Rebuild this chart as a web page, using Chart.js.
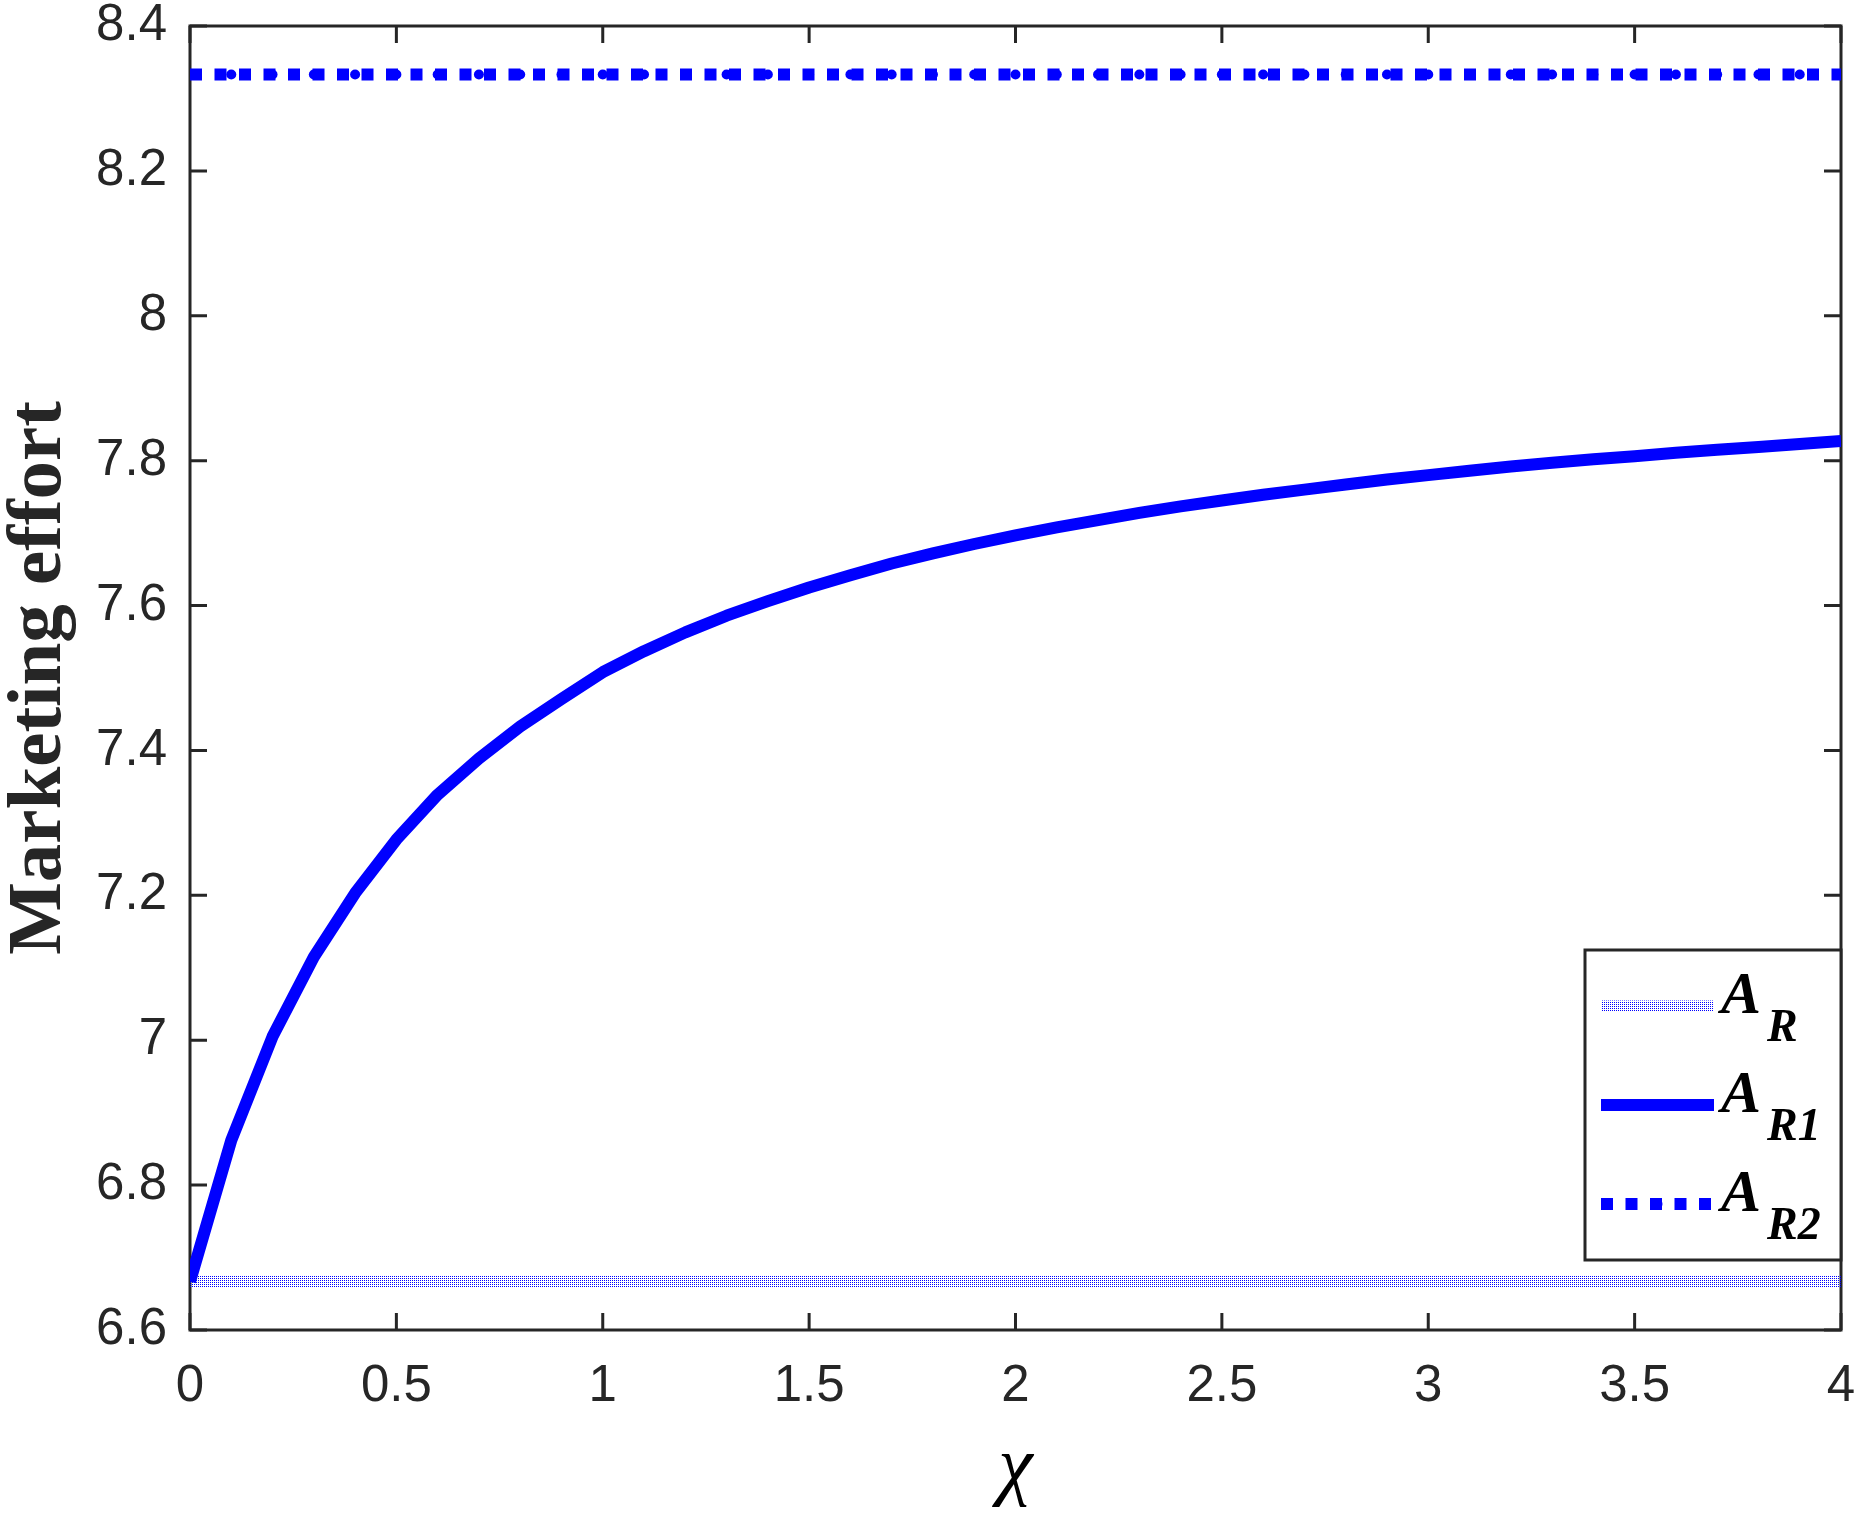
<!DOCTYPE html>
<html>
<head>
<meta charset="utf-8">
<title>Marketing effort vs chi</title>
<script src="https://cdn.jsdelivr.net/npm/chart.js@4/dist/chart.umd.min.js"></script>
<style>
    html, body { margin: 0; padding: 0; background: #ffffff; }
    canvas { display: block; }
</style>
</head>
<body>
<canvas id="effort-chart" width="1868" height="1522"></canvas>
<script>
const chiValues = [
    0, 0.1, 0.2, 0.3, 0.4, 0.5, 0.6, 0.7, 0.8, 0.9,
    1, 1.1, 1.2, 1.3, 1.4, 1.5, 1.6, 1.7, 1.8, 1.9,
    2, 2.1, 2.2, 2.3, 2.4, 2.5, 2.6, 2.7, 2.8, 2.9,
    3, 3.1, 3.2, 3.3, 3.4, 3.5, 3.6, 3.7, 3.8, 3.9,
    4
];
const effortR = [
    6.667, 6.667, 6.667, 6.667, 6.667, 6.667, 6.667, 6.667, 6.667, 6.667,
    6.667, 6.667, 6.667, 6.667, 6.667, 6.667, 6.667, 6.667, 6.667, 6.667,
    6.667, 6.667, 6.667, 6.667, 6.667, 6.667, 6.667, 6.667, 6.667, 6.667,
    6.667, 6.667, 6.667, 6.667, 6.667, 6.667, 6.667, 6.667, 6.667, 6.667,
    6.667
];
const effortR1 = [
    6.667, 6.862, 7.005, 7.115, 7.203, 7.277, 7.339, 7.389, 7.433, 7.471,
    7.508, 7.537, 7.563, 7.586, 7.606, 7.625, 7.642, 7.658, 7.672, 7.685,
    7.697, 7.708, 7.718, 7.728, 7.737, 7.745, 7.753, 7.760, 7.767, 7.774,
    7.780, 7.786, 7.792, 7.797, 7.802, 7.806, 7.811, 7.815, 7.819, 7.823,
    7.827
];
const effortR2 = [
    8.333, 8.333, 8.333, 8.333, 8.333, 8.333, 8.333, 8.333, 8.333, 8.333,
    8.333, 8.333, 8.333, 8.333, 8.333, 8.333, 8.333, 8.333, 8.333, 8.333,
    8.333, 8.333, 8.333, 8.333, 8.333, 8.333, 8.333, 8.333, 8.333, 8.333,
    8.333, 8.333, 8.333, 8.333, 8.333, 8.333, 8.333, 8.333, 8.333, 8.333,
    8.333
];
const seriesLabels = ['A_R', 'A_R1', 'A_R2'];
const xTitle = 'χ';
const yTitle = 'Marketing effort';

const AXIS_COLOR = '#262626';
const BLUE = '#0000ff';
const TICK_LEN = 17;

// Stippled fill used by the A_R line (sparse blue dots on white)
const makeStipple = () => {
    const tile = document.createElement('canvas');
    tile.width = 2;
    tile.height = 2;
    const tctx = tile.getContext('2d');
    tctx.fillStyle = BLUE;
    tctx.fillRect(0, 0, 1, 1);
    return document.getElementById('effort-chart').getContext('2d').createPattern(tile, 'repeat');
};

const toPoints = (values) => chiValues.map((c, i) => ({ x: c, y: values[i] }));

const formatTick = (value) => String(Number(value.toFixed(1)));

/**
 * Box around the plot with inward ticks on all four sides
 */
const frameAndTicks = {
    id: 'frameAndTicks',
    beforeDatasetsDraw(chart) {
        const { ctx, chartArea: a, scales: { x, y } } = chart;
        ctx.save();
        ctx.strokeStyle = AXIS_COLOR;
        ctx.lineWidth = 3;
        ctx.beginPath();
        x.ticks.forEach(t => {
            const px = x.getPixelForValue(t.value);
            ctx.moveTo(px, a.bottom);
            ctx.lineTo(px, a.bottom - TICK_LEN);
            ctx.moveTo(px, a.top);
            ctx.lineTo(px, a.top + TICK_LEN);
        });
        y.ticks.forEach(t => {
            const py = y.getPixelForValue(t.value);
            ctx.moveTo(a.left, py);
            ctx.lineTo(a.left + TICK_LEN, py);
            ctx.moveTo(a.right, py);
            ctx.lineTo(a.right - TICK_LEN, py);
        });
        ctx.stroke();
        ctx.strokeRect(a.left, a.top, a.right - a.left, a.bottom - a.top);
        ctx.restore();
    }
};

/**
 * Legend with subscripted labels, bottom right inside the plot
 */
const subscriptLegend = {
    id: 'subscriptLegend',
    afterDraw(chart) {
        const { ctx, chartArea: a } = chart;
        const boxW = 256;
        const boxH = 310;
        const boxX = a.right - boxW;
        const boxY = a.bottom - 70 - boxH;
        ctx.save();
        ctx.fillStyle = '#ffffff';
        ctx.fillRect(boxX, boxY, boxW, boxH);
        ctx.strokeStyle = AXIS_COLOR;
        ctx.lineWidth = 3;
        ctx.strokeRect(boxX, boxY, boxW, boxH);

        chart.data.datasets.forEach((ds, i) => {
            const rowY = boxY + 56 + i * 99;
            const x0 = boxX + 16;
            const x1 = boxX + 129;
            ctx.save();
            ctx.strokeStyle = ds.borderColor;
            ctx.lineWidth = ds.borderWidth;
            ctx.lineCap = 'butt';
            ctx.setLineDash(ds.borderDash || []);
            ctx.beginPath();
            ctx.moveTo(x0, rowY);
            ctx.lineTo(x1, rowY);
            ctx.stroke();
            ctx.restore();
            if (ds.pointRadius > 0) {
                ctx.fillStyle = ds.pointBackgroundColor;
                ctx.beginPath();
                ctx.arc((x0 + x1) / 2, rowY, ds.pointRadius, 0, Math.PI * 2);
                ctx.fill();
            }
            const [main, sub] = ds.label.split('_');
            ctx.fillStyle = '#000000';
            ctx.textBaseline = 'alphabetic';
            ctx.textAlign = 'left';
            ctx.font = 'italic bold 60px "Liberation Serif", "Times New Roman", serif';
            ctx.fillText(main, boxX + 136, rowY + 7);
            ctx.font = 'italic bold 46px "Liberation Serif", "Times New Roman", serif';
            ctx.fillText(sub, boxX + 182, rowY + 35);
        });
        ctx.restore();
    }
};

const renderChart = () => {
    const ctx = document.getElementById('effort-chart').getContext('2d');
    const tickFont = { family: '"Liberation Sans", Arial, Helvetica, sans-serif', size: 51, lineHeight: 1 };

    return new Chart(ctx, {
        type: 'line',
        data: {
            datasets: [
                {
                    label: seriesLabels[0],
                    data: toPoints(effortR),
                    borderColor: makeStipple(),
                    borderWidth: 11,
                    pointRadius: 0,
                    order: 3
                },
                {
                    label: seriesLabels[1],
                    data: toPoints(effortR1),
                    borderColor: BLUE,
                    borderWidth: 12,
                    pointRadius: 0,
                    borderJoinStyle: 'round',
                    order: 2
                },
                {
                    label: seriesLabels[2],
                    data: toPoints(effortR2),
                    borderColor: BLUE,
                    borderWidth: 12,
                    borderDash: [12, 12.5],
                    borderCapStyle: 'butt',
                    pointRadius: 5,
                    pointBorderWidth: 0,
                    pointBackgroundColor: BLUE,
                    order: 1
                }
            ]
        },
        options: {
            responsive: false,
            animation: false,
            devicePixelRatio: 1,
            layout: { padding: { top: 26, right: 27, left: 0, bottom: 0 } },
            plugins: {
                legend: { display: false },
                tooltip: { enabled: false }
            },
            elements: { line: { tension: 0 } },
            scales: {
                x: {
                    type: 'linear',
                    min: 0,
                    max: 4,
                    grid: { display: false, drawTicks: false },
                    border: { display: false },
                    ticks: {
                        stepSize: 0.5,
                        autoSkip: false,
                        maxRotation: 0,
                        padding: 31,
                        color: AXIS_COLOR,
                        font: tickFont,
                        callback: formatTick
                    },
                    title: {
                        display: true,
                        text: xTitle,
                        color: '#000000',
                        padding: { top: 0, bottom: 14 },
                        font: { family: '"Liberation Serif", "Times New Roman", serif', style: 'italic', size: 78, lineHeight: 1 }
                    },
                    afterFit(scale) {
                        scale.height = 192;
                        scale.paddingLeft = 0;
                        scale.paddingRight = 0;
                    }
                },
                y: {
                    type: 'linear',
                    min: 6.6,
                    max: 8.4,
                    grid: { display: false, drawTicks: false },
                    border: { display: false },
                    ticks: {
                        stepSize: 0.2,
                        autoSkip: false,
                        padding: 23,
                        color: AXIS_COLOR,
                        font: tickFont,
                        callback: formatTick
                    },
                    title: {
                        display: true,
                        text: yTitle,
                        color: AXIS_COLOR,
                        padding: { top: 2, bottom: 0 },
                        font: { family: '"Liberation Serif", "Times New Roman", serif', weight: 'bold', size: 77, lineHeight: 1 }
                    },
                    afterFit(scale) {
                        scale.width = 190;
                        scale.paddingTop = 0;
                        scale.paddingBottom = 0;
                    }
                }
            }
        },
        plugins: [frameAndTicks, subscriptLegend]
    });
};

renderChart();
</script>
</body>
</html>
